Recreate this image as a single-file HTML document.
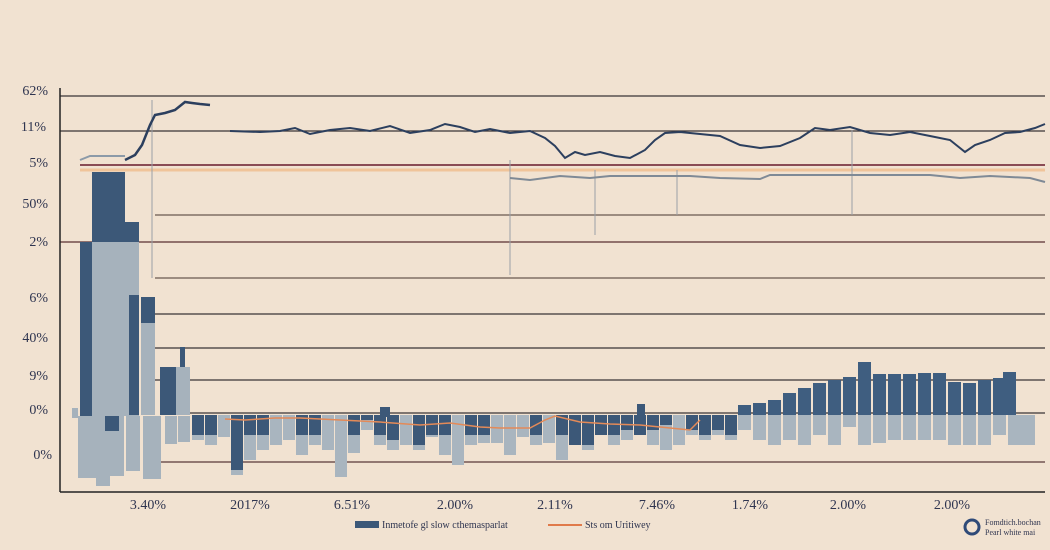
<!DOCTYPE html><html><head><meta charset="utf-8"><style>html,body{margin:0;padding:0;background:#f1e2d1}svg{display:block}text{font-family:"Liberation Serif",serif;fill:#2f3550}</style></head><body>
<svg width="1050" height="550" viewBox="0 0 1050 550">
<rect width="1050" height="550" fill="#f1e2d1"/>
<g stroke="#3a3436" stroke-width="1.3">
<line x1="60" y1="96" x2="1045" y2="96"/>
<line x1="60" y1="131" x2="1045" y2="131"/>
<line x1="60" y1="242" x2="1045" y2="242" stroke="#5a2f32"/>
<line x1="155" y1="215" x2="1045" y2="215" stroke="#6a5a50"/>
<line x1="155" y1="278" x2="1045" y2="278" stroke="#6a5a50"/>
<line x1="155" y1="314" x2="1045" y2="314"/>
<line x1="155" y1="348" x2="1045" y2="348"/>
<line x1="155" y1="380" x2="1045" y2="380"/>
<line x1="160" y1="413" x2="1045" y2="413"/>
<line x1="160" y1="462" x2="1045" y2="462" stroke="#5a3a3a"/>
</g>
<line x1="80" y1="165" x2="1045" y2="165" stroke="#8a4c55" stroke-width="2"/>
<line x1="80" y1="170" x2="1045" y2="170" stroke="#f0c49a" stroke-width="3"/>
<g stroke="#9aa0a8" stroke-width="1"><line x1="152" y1="100" x2="152" y2="278"/><line x1="510" y1="160" x2="510" y2="275"/><line x1="595" y1="170" x2="595" y2="235"/><line x1="852" y1="130" x2="852" y2="215"/><line x1="677" y1="170" x2="677" y2="215"/></g>
<!-- left bars -->
<g fill="#a6b2bc">
<rect x="78" y="416" width="18" height="62"/><rect x="96" y="416" width="14" height="70"/><rect x="110" y="416" width="14" height="60"/><rect x="126" y="416" width="14" height="55"/><rect x="143" y="416" width="18" height="63"/><rect x="165" y="416" width="12" height="28"/><rect x="178" y="416" width="12" height="26"/>
</g>
<rect x="80" y="242" width="12" height="174" fill="#3c5878"/>
<rect x="92" y="172" width="33" height="70" fill="#3c5878"/>
<rect x="92" y="242" width="33" height="174" fill="#a6b2bc"/>
<rect x="125" y="222" width="14" height="20" fill="#3c5878"/>
<rect x="125" y="242" width="14" height="174" fill="#a6b2bc"/>
<rect x="129" y="295" width="10" height="120" fill="#3c5878"/>
<rect x="141" y="297" width="14" height="118" fill="#a6b2bc"/>
<rect x="141" y="297" width="14" height="26" fill="#3c5878"/>
<rect x="160" y="367" width="16" height="48" fill="#3c5878"/>
<rect x="176" y="367" width="14" height="48" fill="#a6b2bc"/>
<rect x="180" y="347" width="5" height="20" fill="#3c5878"/>
<rect x="105" y="416" width="14" height="15" fill="#3c5878"/>
<rect x="72" y="408" width="6" height="10" fill="#a6b2bc"/>
<!-- middle bars: light then dark -->
<g fill="#a9b5bf">
<rect x="192" y="415" width="12" height="25"/><rect x="205" y="415" width="12" height="30"/><rect x="218" y="415" width="12" height="22"/><rect x="231" y="415" width="12" height="60"/><rect x="244" y="415" width="12" height="45"/><rect x="257" y="415" width="12" height="35"/><rect x="270" y="415" width="12" height="30"/><rect x="283" y="415" width="12" height="25"/><rect x="296" y="415" width="12" height="40"/><rect x="309" y="415" width="12" height="30"/><rect x="322" y="415" width="12" height="35"/><rect x="335" y="415" width="12" height="62"/><rect x="348" y="415" width="12" height="38"/><rect x="361" y="415" width="12" height="15"/><rect x="374" y="415" width="12" height="30"/><rect x="387" y="415" width="12" height="35"/><rect x="400" y="415" width="12" height="30"/><rect x="413" y="415" width="12" height="35"/><rect x="426" y="415" width="12" height="22"/><rect x="439" y="415" width="12" height="40"/><rect x="452" y="415" width="12" height="50"/><rect x="465" y="415" width="12" height="30"/><rect x="478" y="415" width="12" height="28"/><rect x="491" y="415" width="12" height="28"/><rect x="504" y="415" width="12" height="40"/><rect x="517" y="415" width="12" height="22"/><rect x="530" y="415" width="12" height="30"/><rect x="543" y="415" width="12" height="28"/><rect x="556" y="415" width="12" height="45"/><rect x="569" y="415" width="12" height="30"/><rect x="582" y="415" width="12" height="35"/><rect x="595" y="415" width="12" height="20"/><rect x="608" y="415" width="12" height="30"/><rect x="621" y="415" width="12" height="25"/><rect x="634" y="415" width="12" height="20"/><rect x="647" y="415" width="12" height="30"/><rect x="660" y="415" width="12" height="35"/><rect x="673" y="415" width="12" height="30"/><rect x="686" y="415" width="12" height="20"/><rect x="699" y="415" width="12" height="25"/><rect x="712" y="415" width="12" height="20"/><rect x="725" y="415" width="12" height="25"/>
</g>
<g fill="#3c5878">
<rect x="192" y="415" width="12" height="20"/><rect x="205" y="415" width="12" height="20"/><rect x="231" y="415" width="12" height="55"/><rect x="244" y="415" width="12" height="20"/><rect x="257" y="415" width="12" height="20"/><rect x="296" y="415" width="12" height="20"/><rect x="309" y="415" width="12" height="20"/><rect x="348" y="415" width="12" height="20"/><rect x="361" y="415" width="12" height="5"/><rect x="374" y="415" width="12" height="20"/><rect x="380" y="407" width="10" height="10"/><rect x="387" y="415" width="12" height="25"/><rect x="413" y="415" width="12" height="30"/><rect x="426" y="415" width="12" height="20"/><rect x="439" y="415" width="12" height="20"/><rect x="465" y="415" width="12" height="20"/><rect x="478" y="415" width="12" height="20"/><rect x="530" y="415" width="12" height="20"/><rect x="556" y="415" width="12" height="20"/><rect x="569" y="415" width="12" height="30"/><rect x="582" y="415" width="12" height="30"/><rect x="595" y="415" width="12" height="20"/><rect x="608" y="415" width="12" height="20"/><rect x="621" y="415" width="12" height="15"/><rect x="634" y="415" width="12" height="20"/><rect x="637" y="404" width="8" height="12"/><rect x="647" y="415" width="12" height="15"/><rect x="660" y="415" width="12" height="10"/><rect x="686" y="415" width="12" height="15"/><rect x="699" y="415" width="12" height="20"/><rect x="712" y="415" width="12" height="15"/><rect x="725" y="415" width="12" height="20"/>
</g>
<!-- right bars -->
<g fill="#a9b5bf">
<rect x="738" y="415" width="13" height="15"/><rect x="753" y="415" width="13" height="25"/><rect x="768" y="415" width="13" height="30"/><rect x="783" y="415" width="13" height="25"/><rect x="798" y="415" width="13" height="30"/><rect x="813" y="415" width="13" height="20"/><rect x="828" y="415" width="13" height="30"/><rect x="843" y="415" width="13" height="12"/><rect x="858" y="415" width="13" height="30"/><rect x="873" y="415" width="13" height="28"/><rect x="888" y="415" width="13" height="25"/><rect x="903" y="415" width="13" height="25"/><rect x="918" y="415" width="13" height="25"/><rect x="933" y="415" width="13" height="25"/><rect x="948" y="415" width="13" height="30"/><rect x="963" y="415" width="13" height="30"/><rect x="978" y="415" width="13" height="30"/><rect x="993" y="415" width="13" height="20"/><rect x="1008" y="415" width="13" height="30"/><rect x="1019" y="415" width="16" height="30"/>
</g>
<g fill="#3f5e80">
<rect x="738" y="405" width="13" height="10"/><rect x="753" y="403" width="13" height="12"/><rect x="768" y="400" width="13" height="15"/><rect x="783" y="393" width="13" height="22"/><rect x="798" y="388" width="13" height="27"/><rect x="813" y="383" width="13" height="32"/><rect x="828" y="380" width="13" height="35"/><rect x="843" y="377" width="13" height="38"/><rect x="858" y="362" width="13" height="53"/><rect x="873" y="374" width="13" height="41"/><rect x="888" y="374" width="13" height="41"/><rect x="903" y="374" width="13" height="41"/><rect x="918" y="373" width="13" height="42"/><rect x="933" y="373" width="13" height="42"/><rect x="948" y="382" width="13" height="33"/><rect x="963" y="383" width="13" height="32"/><rect x="978" y="380" width="13" height="35"/><rect x="993" y="378" width="13" height="37"/><rect x="1003" y="372" width="13" height="43"/>
</g>
<polyline fill="none" stroke="#e48a58" stroke-width="1.5" points="225,419 245,420 275,418 300,418 340,420 380,422 420,425 450,423 480,427 500,428 530,428 545,420 555,416 580,422 610,424 640,425 670,428 690,430 700,420"/>
<polyline fill="none" stroke="#2c3f5e" stroke-width="2.5" points="125,160 135,155 142,145 150,125 155,115 165,113 175,110 185,102 192,103 200,104 210,105"/>
<polyline fill="none" stroke="#2c3f5e" stroke-width="2" points="230,131 260,132 280,131 295,128 310,134 330,130 350,128 370,131 390,126 410,133 430,130 445,124 460,127 475,132 490,129 510,133 530,131 545,138 555,146 565,158 575,152 585,155 600,152 615,156 630,158 645,150 655,140 665,133 680,132 700,134 720,136 740,145 760,148 780,146 800,138 815,128 830,130 850,127 870,133 890,135 910,132 930,136 950,140 965,152 975,145 990,140 1005,133 1020,132 1035,128 1045,124"/>
<polyline fill="none" stroke="#8c9aa8" stroke-width="2" points="80,160 90,156 125,156"/>
<polyline fill="none" stroke="#7f8a96" stroke-width="2" points="510,178 530,180 560,176 590,178 610,176 690,176 720,178 760,179 770,175 930,175 960,178 990,176 1030,178 1045,182"/>
<line x1="60" y1="88" x2="60" y2="492" stroke="#222" stroke-width="1.5"/>
<line x1="60" y1="492" x2="1045" y2="492" stroke="#222" stroke-width="1.5"/>
<g font-size="14" text-anchor="end">
<text x="48" y="95">62%</text><text x="46" y="131">11%</text><text x="48" y="167">5%</text><text x="48" y="208">50%</text><text x="48" y="246">2%</text><text x="48" y="302">6%</text><text x="48" y="342">40%</text><text x="48" y="380">9%</text><text x="48" y="414">0%</text><text x="52" y="459">0%</text>
</g>
<g font-size="14" text-anchor="middle">
<text x="148" y="509">3.40%</text><text x="250" y="509">2017%</text><text x="352" y="509">6.51%</text><text x="455" y="509">2.00%</text><text x="555" y="509">2.11%</text><text x="657" y="509">7.46%</text><text x="750" y="509">1.74%</text><text x="848" y="509">2.00%</text><text x="952" y="509">2.00%</text>
</g>
<rect x="355" y="521" width="24" height="7" fill="#3c5878"/>
<text x="382" y="528" font-size="10">Inmetofe gl slow cthemasparlat</text>
<line x1="548" y1="525" x2="582" y2="525" stroke="#e07a4a" stroke-width="2"/>
<text x="585" y="528" font-size="10">Sts om Uritiwey</text>
<circle cx="972" cy="527" r="7" fill="none" stroke="#2f4a78" stroke-width="3"/>
<text x="985" y="525" font-size="8">Fomdtich.bochan</text><text x="985" y="535" font-size="8">Pearl white mai</text>
</svg>
</body></html>
